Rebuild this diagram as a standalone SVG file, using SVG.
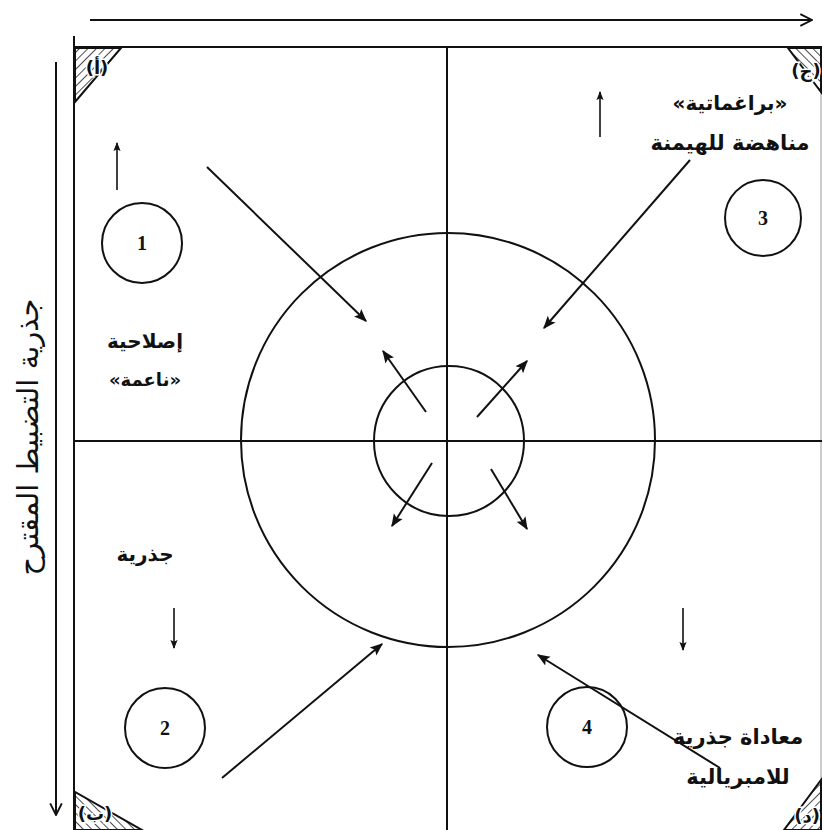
<svg xmlns="http://www.w3.org/2000/svg" width="822" height="830" viewBox="0 0 822 830">
<style>
.ln{stroke:#111;stroke-width:2;fill:none}
.ar{stroke:#111;stroke-width:2;fill:none;marker-end:url(#ah)}
.ar1{stroke:#111;stroke-width:1.6;fill:none;marker-end:url(#ahs)}
.ar-open{stroke:#111;stroke-width:2;fill:none;marker-end:url(#oh)}
.ttl{font-family:"DejaVu Sans",sans-serif;font-weight:bold;fill:#111;text-anchor:middle}
.vt{font-family:"DejaVu Sans",sans-serif;fill:#111;text-anchor:middle}
.num{font-family:"Liberation Serif",serif;font-size:20px;font-weight:bold;fill:#111;text-anchor:middle}
.cor{font-family:"DejaVu Sans",sans-serif;font-size:18px;font-weight:bold;fill:#111;text-anchor:middle;stroke:#fff;stroke-width:3;paint-order:stroke}
.hat{stroke:#111;stroke-width:1.5}
</style>
<defs>
<marker id="ah" viewBox="0 0 10 10" refX="9" refY="5" markerWidth="13" markerHeight="13" orient="auto" markerUnits="userSpaceOnUse">
<path d="M0,1 L10,5 L0,9 L2,5 z" fill="#111"/>
</marker>
<marker id="ahs" viewBox="0 0 10 10" refX="9" refY="5" markerWidth="9" markerHeight="9" orient="auto" markerUnits="userSpaceOnUse">
<path d="M0,1 L10,5 L0,9 L2,5 z" fill="#111"/>
</marker>
<marker id="oh" viewBox="0 0 12 12" refX="11" refY="6" markerWidth="14" markerHeight="14" orient="auto" markerUnits="userSpaceOnUse">
<path d="M1,1 L11,6 L1,11" fill="none" stroke="#111" stroke-width="1.6"/>
</marker>
<pattern id="h1" width="6" height="6" patternUnits="userSpaceOnUse" patternTransform="rotate(45)">
<line x1="0" y1="0" x2="0" y2="6" class="hat"/>
</pattern>
<pattern id="h2" width="6" height="6" patternUnits="userSpaceOnUse" patternTransform="rotate(-45)">
<line x1="0" y1="0" x2="0" y2="6" class="hat"/>
</pattern>
</defs>

<g id="frame">
<line x1="74" y1="36" x2="74" y2="830" class="ln"/>
<line x1="74" y1="47" x2="822" y2="47" class="ln"/>
<line x1="821" y1="47" x2="821" y2="830" stroke="#bbb" stroke-width="1.5"/>
<line x1="447" y1="47" x2="447" y2="830" class="ln"/>
<line x1="74" y1="441" x2="822" y2="441" class="ln"/>
</g>

<g id="corners">
<g id="corner-a">
<path d="M75,48 L121,48 L75,102 Z" fill="url(#h1)" stroke="#111" stroke-width="2"/>
<text x="97" y="74" class="cor">(أ)</text>
</g>
<g id="corner-j">
<path d="M788,48 L821,48 L821,92 Z" fill="url(#h2)" stroke="#111" stroke-width="2"/>
<text x="806" y="77" class="cor">(ج)</text>
</g>
<g id="corner-b">
<path d="M75,792 L75,830 L142,830 Z" fill="url(#h2)" stroke="#111" stroke-width="2"/>
<text x="95" y="820" class="cor">(ب)</text>
</g>
<g id="corner-d">
<path d="M821,780 L821,830 L784,830 Z" fill="url(#h1)" stroke="#111" stroke-width="2"/>
<text x="807" y="822" class="cor">(د)</text>
</g>
</g>

<g id="axis-top">
<line x1="90" y1="20" x2="812" y2="20" class="ar-open"/>
</g>
<g id="axis-left">
<line x1="56" y1="62" x2="56" y2="815" class="ar-open"/>
<text class="vt" font-size="29" transform="translate(38,437) rotate(-90)">جذرية التضبيط المقترح</text>
</g>

<g id="outer-circle"><circle cx="448" cy="440" r="207" class="ln"/></g>
<g id="inner-circle"><circle cx="449" cy="441" r="75" class="ln"/></g>

<g id="node-1"><circle cx="142" cy="243" r="40" class="ln"/><text x="142" y="250" class="num">1</text></g>
<g id="node-2"><circle cx="165" cy="728" r="40" class="ln"/><text x="165" y="735" class="num">2</text></g>
<g id="node-3"><circle cx="763" cy="218" r="38" class="ln"/><text x="763" y="225" class="num">3</text></g>
<g id="node-4"><circle cx="587" cy="727" r="40" class="ln"/><text x="587" y="734" class="num">4</text></g>

<g id="label-q1">
<text x="145" y="348" class="ttl" font-size="20">إصلاحية</text>
<text x="145" y="386" class="ttl" font-size="18">«ناعمة»</text>
</g>
<g id="label-q2"><text x="145" y="561" class="ttl" font-size="20">جذرية</text></g>
<g id="label-q3">
<text x="730" y="110" class="ttl" font-size="20">«براغماتية»</text>
<text x="730" y="150" class="ttl" font-size="21">مناهضة للهيمنة</text>
</g>
<g id="label-q4">
<text x="738" y="744" class="ttl" font-size="21">معاداة جذرية</text>
<text x="738" y="784" class="ttl" font-size="21">للامبريالية</text>
</g>

<g id="connectors">
<line x1="207" y1="167" x2="366" y2="321" class="ar"/>
<line x1="690" y1="160" x2="544" y2="328" class="ar"/>
<line x1="222" y1="778" x2="382" y2="644" class="ar"/>
<line x1="720" y1="768" x2="538" y2="655" class="ar"/>
<line x1="426" y1="412" x2="383" y2="351" class="ar"/>
<line x1="477" y1="417" x2="527" y2="361" class="ar"/>
<line x1="432" y1="463" x2="392" y2="526" class="ar"/>
<line x1="491" y1="469" x2="527" y2="529" class="ar"/>
<line x1="117" y1="190" x2="117" y2="143" class="ar1"/>
<line x1="600" y1="137" x2="600" y2="92" class="ar1"/>
<line x1="174" y1="608" x2="174" y2="648" class="ar1"/>
<line x1="683" y1="608" x2="683" y2="650" class="ar1"/>
</g>
</svg>
